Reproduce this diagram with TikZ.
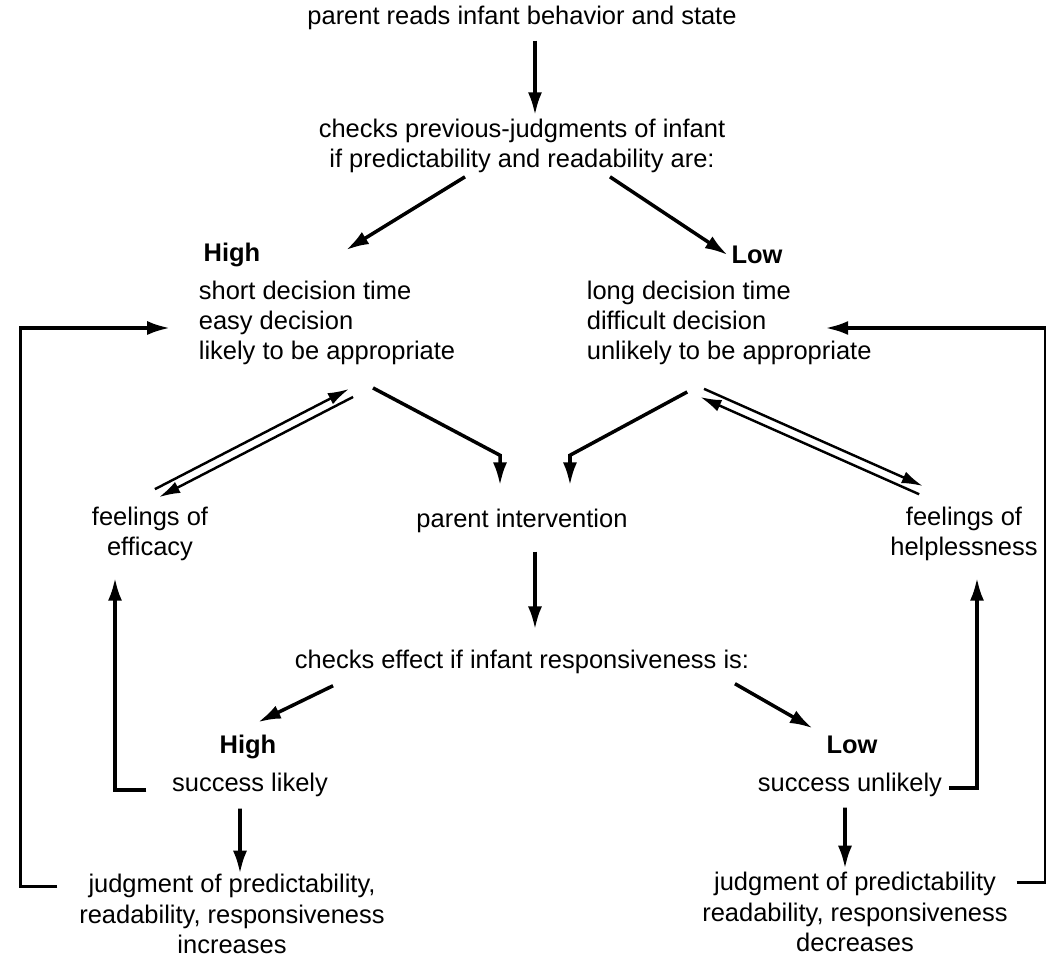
\documentclass[tikz,border=0pt]{standalone}
\usepackage{fontspec}
\setmainfont{Liberation Sans}
\usetikzlibrary{arrows.meta}
\usetikzlibrary{calc}
\usetikzlibrary{positioning}

\tikzset{
  txt/.style={inner sep=2pt, font=\fontsize{14.5}{17.2}\selectfont},
  blk/.style={txt, align=left},
  ctr/.style={txt, align=center},
  hd/.style={txt, font=\fontsize{14.5}{17.2}\selectfont\bfseries},
  arr/.style={line width=2pt, -{Latex[length=13pt,width=8pt]}},
  dbl/.style={line width=1.4pt, -{Latex[length=12pt,width=7pt]}},
}

\begin{document}
\begin{tikzpicture}[x=0.02cm, y=-0.02cm]
\useasboundingbox (0,0) rectangle (1046,959);

\node[txt] (rd) at (522,18) {parent reads infant behavior and state};
\node[ctr] (chk) at (522,146) {checks previous-judgments of infant\\if predictability and readability are:};
\node[hd] (hi) at (232,255) {High};
\node[hd] (lo) at (757,255) {Low};
\node[blk, anchor=west] (hiD) at (195,323) {short decision time\\easy decision\\likely to be appropriate};
\node[blk, anchor=west] (loD) at (583,323) {long decision time\\difficult decision\\unlikely to be appropriate};
\node[ctr] (eff) at (150,534) {feelings of\\efficacy};
\node[txt] (pi) at (522,521) {parent intervention};
\node[ctr] (help) at (964,534) {feelings of\\helplessness};
\node[txt] (chk2) at (522,662) {checks effect if infant responsiveness is:};
\node[hd] (hi2) at (248,747) {High};
\node[hd] (lo2) at (852,745) {Low};
\node[txt] (suH) at (250,785) {success likely};
\node[txt] (suL) at (850,785) {success unlikely};
\node[ctr] (jL) at (232,914) {judgment of predictability,\\readability, responsiveness\\increases};
\node[ctr] (jR) at (855,912) {judgment of predictability\\readability, responsiveness\\decreases};

\coordinate (hA) at ([xshift=0.48cm,yshift=-0.48cm]hiD.south);
\coordinate (hB) at ([xshift=0.14cm,yshift=0.2cm]eff.north);
\coordinate (lA) at ([xshift=-0.54cm,yshift=-0.48cm]loD.south);
\coordinate (lB) at ([xshift=-0.86cm,yshift=0.26cm]help.north);
\coordinate (piL) at ([xshift=-0.44cm,yshift=0.4cm]pi.north);
\coordinate (piR) at ([xshift=0.96cm,yshift=0.4cm]pi.north);

\draw[arr] ([xshift=0.26cm,yshift=-0.14cm]rd.south) -- ([xshift=0.26cm]chk.north);
\draw[arr] ([xshift=-1.14cm]chk.south) -- ([xshift=0.38cm,yshift=0.54cm]hiD.north);
\draw[arr] ([xshift=1.76cm]chk.south) -- (lo.west);

\draw[dbl] ($(hA)!0.09cm!90:(hB)$) -- ($(hB)!0.09cm!-90:(hA)$);
\draw[dbl] ($(hB)!0.09cm!90:(hA)$) -- ($(hA)!0.09cm!-90:(hB)$);
\draw[dbl] ($(lA)!0.09cm!90:(lB)$) -- ($(lB)!0.09cm!-90:(lA)$);
\draw[dbl] ($(lB)!0.09cm!90:(lA)$) -- ($(lA)!0.09cm!-90:(lB)$);

\draw[arr] ([xshift=0.92cm,yshift=-0.38cm]hiD.south) -- ([yshift=0.6cm]piL) -- (piL);
\draw[arr] ([xshift=-0.84cm,yshift=-0.46cm]loD.south) -- ([yshift=0.6cm]piR) -- (piR);

\draw[arr] ([xshift=0.26cm,yshift=-0.3cm]pi.south) -- ([xshift=0.26cm,yshift=0.34cm]chk2.north);
\draw[arr] ([xshift=-3.78cm,yshift=-0.16cm]chk2.south) -- ([xshift=0.2cm,yshift=0.18cm]hi2.north);
\draw[arr] ([xshift=4.26cm,yshift=-0.12cm]chk2.south) -- ([xshift=-0.2cm,yshift=0.08cm]lo2.north west);

\draw[arr] ([xshift=-0.2cm,yshift=-0.16cm]suH.south) -- ([xshift=0.16cm,yshift=-0.06cm]jL.north);
\draw[arr] ([xshift=-0.1cm,yshift=-0.14cm]suL.south) -- ([xshift=-0.2cm]jR.north);

\draw[arr] ([xshift=-0.44cm,yshift=-0.1cm]suH.west) -| ([xshift=-0.7cm,yshift=-0.26cm]eff.south);
\draw[arr] ([xshift=0.06cm,yshift=-0.06cm]suL.east) -| ([xshift=0.26cm,yshift=-0.26cm]help.south);

\draw[arr] ([xshift=-0.36cm,yshift=-0.32cm]jL.north west) -- ++(-37,0) |- ([xshift=-0.5cm,yshift=-0.1cm]hiD.west);
\draw[arr] ([xshift=0.1cm,yshift=-0.28cm]jR.north east) -- ++(29,0) |- ([xshift=-1cm,yshift=-0.1cm]loD.east);
\end{tikzpicture}
\end{document}
